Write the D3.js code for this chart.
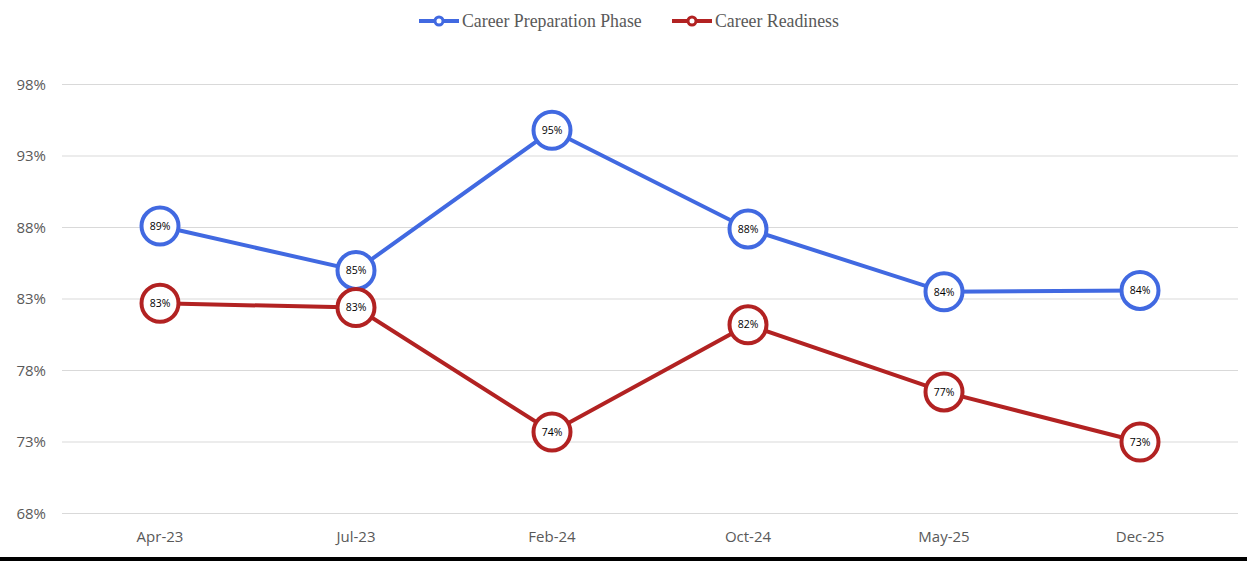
<!DOCTYPE html>
<html lang="en">
<head>
<meta charset="UTF-8">
<title>career chart</title>
<script src="https://cdn.jsdelivr.net/npm/d3@7"></script>
<style>
	body { margin: 0; background: #fff; }
	svg { display: block; }
</style>
</head>
<body>
<svg id="chart" width="1247" height="561"></svg>
<script>
// data
const categories = ["Apr-23", "Jul-23", "Feb-24", "Oct-24", "May-25", "Dec-25"];
const prepValues = [88.1, 85.0, 94.8, 87.9, 83.5, 83.6];
const prepLabels = ["89%", "85%", "95%", "88%", "84%", "84%"];
const readyValues = [82.7, 82.4, 73.7, 81.2, 76.5, 73.0];
const readyLabels = ["83%", "83%", "74%", "82%", "77%", "73%"];
const yTicks = [68, 73, 78, 83, 88, 93, 98];

const series = [
	{ name: "Career Preparation Phase", color: "#4169e1", values: prepValues, labels: prepLabels },
	{ name: "Career Readiness", color: "#b22222", values: readyValues, labels: readyLabels }
];

const svg = d3.select("#chart");
const plotLeft = 62, plotRight = 1238, plotTop = 84.5, plotBottom = 513.5;

const x = d3.scaleBand().domain(categories).range([plotLeft, plotRight]);
const y = d3.scaleLinear().domain([68, 98]).range([plotBottom, plotTop]);

// grid lines
svg.append("g")
	.selectAll("line")
	.data(yTicks)
	.enter()
	.append("line")
	.attr("x1", plotLeft).attr("x2", plotRight)
	.attr("y1", d => y(d)).attr("y2", d => y(d))
	.attr("stroke", "#d9d9d9")
	.attr("stroke-width", 1);

// y labels
svg.append("g")
	.selectAll("text")
	.data(yTicks)
	.enter()
	.append("text")
	.attr("x", 46)
	.attr("y", d => y(d))
	.attr("dy", "0.35em")
	.attr("text-anchor", "end")
	.style("font-family", "'Open Sans', sans-serif")
	.style("font-size", "15px")
	.attr("fill", "#595959")
	.text(d => d + "%");

// x labels
svg.append("g")
	.selectAll("text")
	.data(categories)
	.enter()
	.append("text")
	.attr("x", d => x(d) + x.bandwidth() / 2)
	.attr("y", 542)
	.attr("text-anchor", "middle")
	.style("font-family", "'Open Sans', sans-serif")
	.style("font-size", "15px")
	.attr("fill", "#595959")
	.text(d => d);

const cx = i => x(categories[i]) + x.bandwidth() / 2;
const line = d3.line()
	.x((d, i) => cx(i))
	.y(d => y(d));

series.forEach(s => {
	let g = svg.append("g");
	g.append("path")
		.attr("d", line(s.values))
		.attr("fill", "none")
		.attr("stroke", s.color)
		.attr("stroke-width", 4);
	g.selectAll("circle")
		.data(s.values)
		.enter()
		.append("circle")
		.attr("cx", (d, i) => cx(i))
		.attr("cy", d => y(d))
		.attr("r", 18.5)
		.attr("fill", "#fff")
		.attr("stroke", s.color)
		.attr("stroke-width", 4);
	g.selectAll("text")
		.data(s.values)
		.enter()
		.append("text")
		.attr("x", (d, i) => cx(i))
		.attr("y", d => y(d))
		.attr("dy", "0.35em")
		.attr("text-anchor", "middle")
		.style("font-family", "'Open Sans', sans-serif")
		.style("font-size", "10.5px")
		.attr("fill", "#000")
		.text((d, i) => s.labels[i]);
});

// legend
const legendX = [419, 672];
series.forEach((s, i) => {
	let lg = svg.append("g").attr("transform", "translate(" + legendX[i] + ",21)");
	lg.append("line")
		.attr("x1", 0).attr("x2", 40)
		.attr("stroke", s.color)
		.attr("stroke-width", 4);
	lg.append("circle")
		.attr("cx", 20).attr("r", 4)
		.attr("fill", "#fff")
		.attr("stroke", s.color)
		.attr("stroke-width", 3);
	lg.append("text")
		.attr("x", 43)
		.attr("dy", "0.35em")
		.style("font-family", "'Liberation Serif', serif")
		.style("font-size", "17.8px")
		.attr("fill", "#595959")
		.text(s.name);
});

// black strip at bottom
svg.append("rect")
	.attr("x", 0).attr("y", 557)
	.attr("width", 1247).attr("height", 4)
	.attr("fill", "#000");
</script>
</body>
</html>
